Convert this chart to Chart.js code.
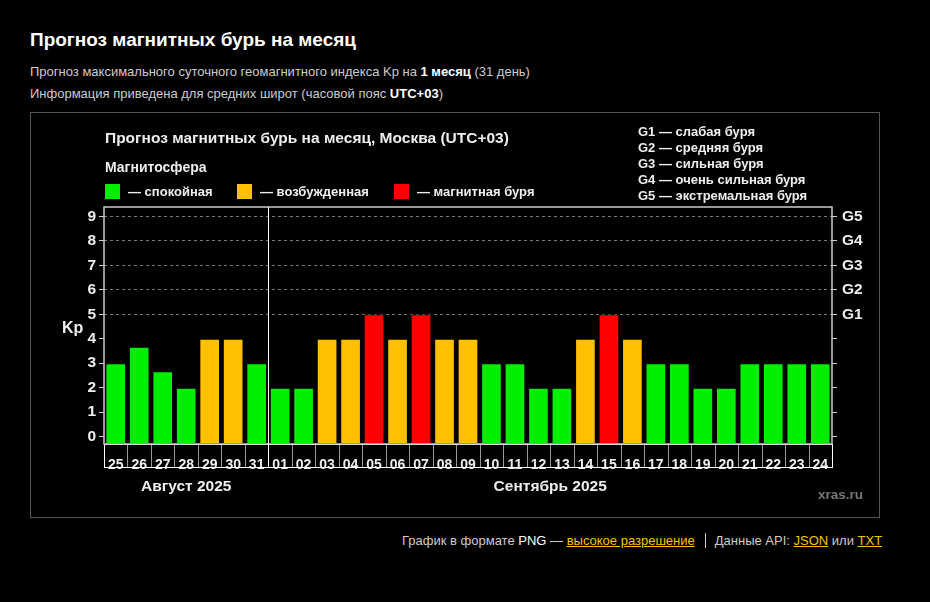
<!DOCTYPE html>
<html lang="ru">
<head>
<meta charset="utf-8">
<title>Прогноз магнитных бурь на месяц</title>
<script src="https://cdn.jsdelivr.net/npm/chart.js@4.4.1/dist/chart.umd.min.js"></script>
<style>
  body { margin: 0; background: #000; font-family: "Liberation Sans", Arial, sans-serif; color: #ccc; }
  #page { position: relative; width: 930px; height: 602px; overflow: hidden; background: #000; }
  .abs { position: absolute; white-space: nowrap; }
  h1 { margin: 0; font-size: 19px; color: #fff; font-weight: bold; }
  .sub { font-size: 13px; color: #ccc; }
  .sub b { color: #fff; }
  #frame { position: absolute; left: 30px; top: 112px; width: 848px; height: 404px; border: 1px solid #555; }
  #chartBox { position: absolute; left: 31px; top: 113px; width: 848px; height: 404px; }
  .in { color: #eee; font-weight: bold; }
  .sq { position: absolute; width: 15px; height: 15px; }
  .foot { font-size: 13px; color: #ccc; }
  .foot a { color: #f5c400; text-decoration: underline; }
  .foot .w { color: #fff; }
</style>
</head>
<body>
<div id="page">
  <h1 class="abs" style="left:30px;top:29px;">Прогноз магнитных бурь на месяц</h1>
  <div class="abs sub" style="left:30px;top:64px;">Прогноз максимального суточного геомагнитного индекса Kp на <b>1 месяц</b> (31 день)</div>
  <div class="abs sub" style="left:30px;top:86px;">Информация приведена для средних широт (часовой пояс <b>UTC+03</b>)</div>

  <div id="frame"></div>
  <div id="chartBox"><canvas id="kpChart" width="848" height="404"></canvas></div>

  <div class="abs in" style="left:105px;top:129px;font-size:15.5px;">Прогноз магнитных бурь на месяц, Москва (UTC+03)</div>
  <div class="abs in" style="left:105px;top:159px;font-size:14px;">Магнитосфера</div>
  <div class="sq" style="left:105px;top:184px;background:#00ee00;"></div>
  <div class="abs in" style="left:128px;top:184px;font-size:13px;">— спокойная</div>
  <div class="sq" style="left:237px;top:184px;background:#ffc000;"></div>
  <div class="abs in" style="left:260px;top:184px;font-size:13px;">— возбужденная</div>
  <div class="sq" style="left:394px;top:184px;background:#ff0000;"></div>
  <div class="abs in" style="left:417px;top:184px;font-size:13px;">— магнитная буря</div>

  <div class="abs in" style="left:638px;top:124px;font-size:13px;line-height:16px;">
    G1 — слабая буря<br>G2 — средняя буря<br>G3 — сильная буря<br>G4 — очень сильная буря<br>G5 — экстремальная буря
  </div>

  <div class="abs in" style="left:62px;top:319px;font-size:16px;">Kp</div>
  <div class="abs" style="left:818px;top:487px;font-size:13.5px;font-weight:bold;color:#777;">xras.ru</div>

  <div class="abs foot" style="left:402px;top:533px;">
    График в формате <span class="w">PNG</span> — <a>высокое разрешение</a><span style="display:inline-block;width:1px;height:15px;background:#ccc;vertical-align:-3px;margin:0 9px 0 10px;"></span>Данные API: <a>JSON</a> или <a>TXT</a>
  </div>
</div>

<script>
// days shown on the axis (Aug 25 – Sep 24)
const days = ['25','26','27','28','29','30','31',
  '01','02','03','04','05','06','07','08','09','10','11','12','13','14','15','16',
  '17','18','19','20','21','22','23','24'];
// forecast max Kp per day
const kp = [3, 3.67, 2.67, 2, 4, 4, 3,
  2, 2, 4, 4, 5, 4, 5, 4, 4, 3, 3, 2, 2, 4, 5, 4,
  3, 3, 2, 2, 3, 3, 3, 3];
const monthLabels = ['Август 2025', 'Сентябрь 2025'];
const monthStarts = [0, 7];
const kpTicks = [0, 1, 2, 3, 4, 5, 6, 7, 8, 9];
const gLabels = ['G1', 'G2', 'G3', 'G4', 'G5'];   // Kp 5..9

const yMin = -0.3, yMax = 9.38;

function barColor(v) {
  return v >= 5 ? '#ff0000' : v >= 4 ? '#ffc000' : '#00ee00';
}

const boxPlugin = {
  id: 'boxes',
  afterDraw(chart) {
    const ctx = chart.ctx, a = chart.chartArea, x = chart.scales.x;
    const boxBottom = a.bottom + 23;
    const edge = i => (x.getPixelForValue(i - 1) + x.getPixelForValue(i)) / 2;
    ctx.save();
    // date cell separators
    ctx.strokeStyle = '#999';
    ctx.lineWidth = 1;
    for (let i = 1; i < days.length; i++) {
      const px = Math.round(edge(i)) + 0.5;
      ctx.beginPath(); ctx.moveTo(px, a.bottom); ctx.lineTo(px, boxBottom); ctx.stroke();
    }
    ctx.strokeStyle = '#fff';
    ctx.strokeRect(Math.round(a.left) + 0.5, Math.round(a.bottom) + 0.5, Math.round(a.right - a.left), 23);
    // plot frame
    ctx.strokeStyle = '#ccc';
    ctx.lineWidth = 1.5;
    ctx.strokeRect(a.left, a.top, a.right - a.left, a.bottom - a.top);
    // month divider
    ctx.strokeStyle = '#fff';
    ctx.lineWidth = 1;
    const mx = Math.round(edge(monthStarts[1])) + 0.5;
    ctx.beginPath(); ctx.moveTo(mx, a.top); ctx.lineTo(mx, boxBottom); ctx.stroke();
    // month labels
    ctx.fillStyle = '#eee';
    ctx.font = 'bold 15.5px "Liberation Sans", Arial, sans-serif';
    ctx.textAlign = 'center';
    ctx.textBaseline = 'middle';
    monthLabels.forEach((m, k) => {
      const from = monthStarts[k];
      const to = k + 1 < monthStarts.length ? monthStarts[k + 1] - 1 : days.length - 1;
      const cx = (x.getPixelForValue(from) + x.getPixelForValue(to)) / 2;
      ctx.fillText(m, cx, a.bottom + 43);
    });
    ctx.restore();
  }
};

new Chart(document.getElementById('kpChart'), {
  type: 'bar',
  data: {
    labels: days,
    datasets: [{
      data: kp,
      base: yMin,
      backgroundColor: kp.map(barColor),
      borderColor: 'rgba(0,0,0,0.7)',
      borderWidth: 1,
      borderSkipped: false,
      barPercentage: 0.88,
      categoryPercentage: 1
    }]
  },
  options: {
    responsive: false,
    animation: false,
    layout: { padding: { top: 94, left: 0, right: 0, bottom: 0 } },
    plugins: { legend: { display: false }, tooltip: { enabled: false } },
    scales: {
      x: {
        grid: { display: false },
        border: { display: false },
        ticks: { color: '#eee', font: { family: '"Liberation Sans", Arial', size: 14, weight: 'bold' }, padding: 5, maxRotation: 0, autoSkip: false },
        afterFit: s => { s.height = 73; }
      },
      y: {
        min: yMin, max: yMax,
        afterBuildTicks: s => { s.ticks = kpTicks.map(v => ({ value: v })); },
        grid: {
          color: c => c.tick && c.tick.value >= 5 ? '#777' : 'transparent',
          tickColor: '#ccc', tickLength: 5, drawOnChartArea: true
        },
        border: { display: false, dash: [3, 3] },
        ticks: { color: '#eee', font: { family: '"Liberation Sans", Arial', size: 15.5, weight: 'bold' }, padding: 3 },
        afterFit: s => { s.width = 73; }
      },
      y2: {
        position: 'right',
        min: yMin, max: yMax,
        afterBuildTicks: s => { s.ticks = kpTicks.map(v => ({ value: v })); },
        grid: { drawOnChartArea: false, tickColor: '#ccc', tickLength: 5 },
        border: { display: false },
        ticks: {
          color: '#eee', font: { family: '"Liberation Sans", Arial', size: 15.5, weight: 'bold' }, padding: 5,
          callback: v => v >= 5 ? gLabels[v - 5] : ''
        },
        afterFit: s => { s.width = 47; }
      }
    }
  },
  plugins: [boxPlugin]
});
</script>
</body>
</html>
